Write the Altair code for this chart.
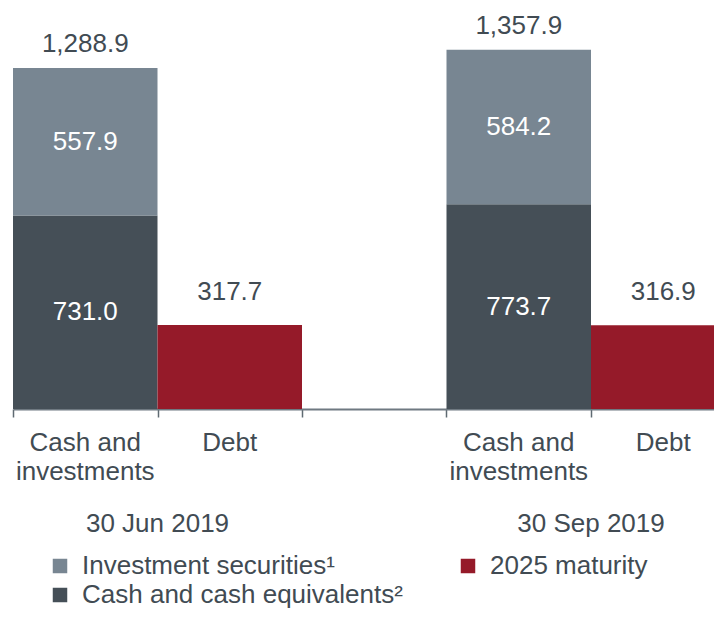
import altair as alt
import pandas as pd

# ---- data ----
groups = ["30 Jun 2019", "30 Sep 2019"]
bar_names = ["Cash and\ninvestments", "Debt"]
series_names = ["Investment securities¹", "Cash and cash equivalents²", "2025 maturity"]
series_colors = ["#788692", "#454f57", "#951a29"]
cash_equivalents = [731.0, 773.7]
investment_securities = [557.9, 584.2]
debt_2025 = [317.7, 316.9]
totals = [1288.9, 1357.9]

FONT = "Liberation Sans"
TEXT_COLOR = "#414b53"
W, H = 701, 400
SLOT_PX = 144.5
SLOTS_PER_GROUP = 3  # cash bar, debt bar, gap

seg_rows, total_rows, debt_rows, cat_rows, date_rows = [], [], [], [], []
for i, g in enumerate(groups):
    s = i * SLOTS_PER_GROUP
    seg_rows.append(dict(slot=s, series=series_names[1], value=cash_equivalents[i], order=0, inside=True))
    seg_rows.append(dict(slot=s, series=series_names[0], value=investment_securities[i], order=1, inside=True))
    seg_rows.append(dict(slot=s + 1, series=series_names[2], value=debt_2025[i], order=0, inside=False))
    total_rows.append(dict(xc=s + 0.5, value=totals[i]))
    debt_rows.append(dict(xc=s + 1.5, value=debt_2025[i]))
    cat_rows.append(dict(xc=s + 0.5, label=bar_names[0]))
    cat_rows.append(dict(xc=s + 1.5, label=bar_names[1]))
    date_rows.append(dict(xc=s + 1, label=g))

seg = pd.DataFrame(seg_rows)
seg["slot_end"] = seg["slot"] + 1

xscale = alt.Scale(domain=[0, W / SLOT_PX], nice=False, zero=False)
yscale = alt.Scale(domain=[0, H / (341.0 / 1288.9)], nice=False, zero=True)

base = alt.Chart(seg).transform_stack(
    stack="value", groupby=["slot"], as_=["y0", "y1"],
    sort=[alt.SortField("order", "ascending")]
)

bars = base.mark_bar(clip=True).encode(
    x=alt.X("slot:Q", scale=xscale, title=None,
            axis=alt.Axis(values=[0, 1, 2, 3, 4], labels=False, grid=False,
                          ticks=True, tickSize=8, tickWidth=1.5, tickColor="#5f6a72",
                          domain=True, domainColor="#6f7981", domainWidth=2)),
    x2="slot_end:Q",
    y=alt.Y("y0:Q", scale=yscale, axis=None),
    y2="y1:Q",
    color=alt.Color("series:N",
                    scale=alt.Scale(domain=series_names, range=series_colors),
                    legend=alt.Legend(title=None, orient="none", legendX=34, legendY=544,
                                      columns=2, symbolType="square", symbolSize=210,
                                      symbolStrokeWidth=0, labelFontSize=26, labelFont=FONT,
                                      labelColor=TEXT_COLOR, labelOffset=9,
                                      columnPadding=52, rowPadding=3, padding=0,
                                      labelLimit=0)),
)

inside = base.transform_filter("datum.inside").transform_calculate(
    mid="(datum.y0 + datum.y1) / 2", xc="datum.slot + 0.5"
).mark_text(font=FONT, fontSize=26, color="white", baseline="middle").encode(
    x=alt.X("xc:Q", scale=xscale),
    y=alt.Y("mid:Q", scale=yscale),
    text=alt.Text("value:Q", format=",.1f"),
)

total_lbl = alt.Chart(pd.DataFrame(total_rows)).mark_text(
    font=FONT, fontSize=26, color=TEXT_COLOR, baseline="alphabetic", dy=-16
).encode(
    x=alt.X("xc:Q", scale=xscale),
    y=alt.Y("value:Q", scale=yscale),
    text=alt.Text("value:Q", format=",.1f"),
)

debt_lbl = alt.Chart(pd.DataFrame(debt_rows)).mark_text(
    font=FONT, fontSize=26, color=TEXT_COLOR, baseline="alphabetic", dy=-25
).encode(
    x=alt.X("xc:Q", scale=xscale),
    y=alt.Y("value:Q", scale=yscale),
    text=alt.Text("value:Q", format=",.1f"),
)

cat_lbl = alt.Chart(pd.DataFrame(cat_rows)).mark_text(
    font=FONT, fontSize=26, color=TEXT_COLOR, baseline="alphabetic",
    lineBreak="\n", lineHeight=29
).encode(
    x=alt.X("xc:Q", scale=xscale),
    y=alt.value(442),
    text="label:N",
)

date_lbl = alt.Chart(pd.DataFrame(date_rows)).mark_text(
    font=FONT, fontSize=26, color=TEXT_COLOR, baseline="alphabetic"
).encode(
    x=alt.X("xc:Q", scale=xscale),
    y=alt.value(523),
    text="label:N",
)

chart = alt.layer(bars, inside, total_lbl, debt_lbl, cat_lbl, date_lbl).properties(
    width=W, height=H, background="white",
    autosize=alt.AutoSizeParams(type="none"),
    padding={"left": 5, "top": 1, "right": 0, "bottom": 200},
).configure_view(stroke=None)

chart.save("out.html", embed_options={"renderer": "svg", "actions": False})
